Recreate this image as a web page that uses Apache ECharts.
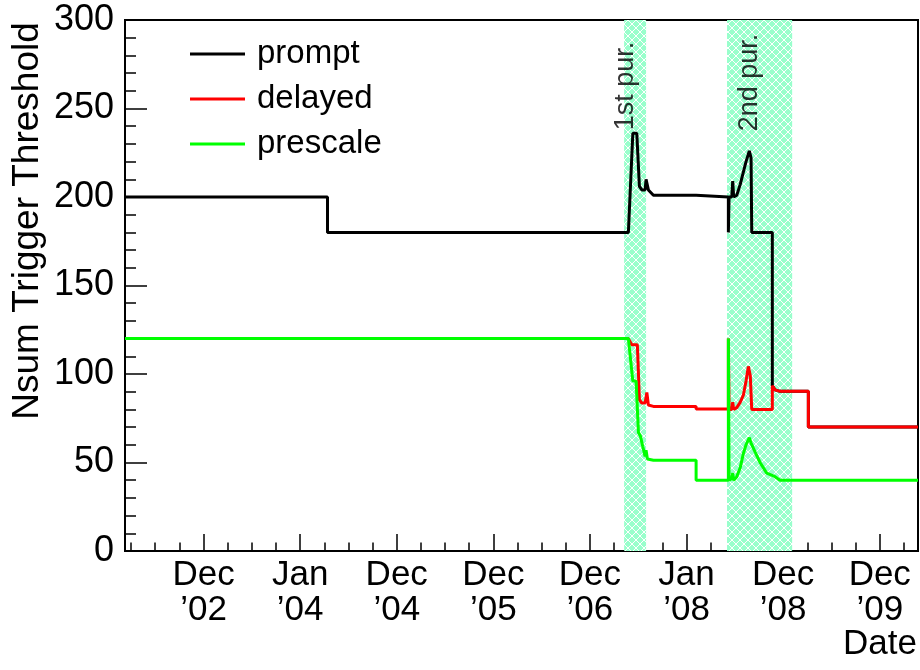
<!DOCTYPE html>
<html>
<head>
<meta charset="utf-8">
<script src="https://cdn.jsdelivr.net/npm/echarts@6/dist/echarts.min.js"></script>
<style>
  html, body { margin: 0; padding: 0; background: #fff; }
  #chart { width: 920px; height: 670px; }
</style>
</head>
<body>
<div id="chart"></div>
<script>
// x is measured in years from the "Dec '02" tick
var xTickVals = [0, 1, 2, 3, 4, 5, 6, 7];
var xTickLabels = ['Dec\n\u201902', 'Jan\n\u201904', 'Dec\n\u201904', 'Dec\n\u201905',
                   'Dec\n\u201906', 'Jan\n\u201908', 'Dec\n\u201908', 'Dec\n\u201909'];
var xMin = -0.813, xMax = 7.396;

// purification periods (shaded)
var purifications = [[4.354, 4.581], [5.419, 6.093]];
var purLabels = ['1st pur.', '2nd pur.'];

var prompt = [
  [-0.813, 200], [1.283, 200], [1.283, 180], [4.398, 180], [4.444, 236], [4.485, 236],
  [4.512, 206], [4.537, 204], [4.571, 204], [4.581, 210], [4.605, 204], [4.657, 201],
  [5.099, 201], [5.099, 200], [5.433, 200], [5.433, 180], [5.440, 200], [5.468, 200],
  [5.478, 209], [5.488, 200], [5.520, 201], [5.555, 207], [5.588, 214], [5.616, 220],
  [5.650, 226], [5.668, 222], [5.675, 180], [5.888, 180], [5.888, 93.4], [5.916, 91],
  [5.968, 90.2], [6.261, 90.2], [6.261, 70], [7.396, 70]
];
var delayed = [
  [-0.813, 120], [4.398, 120], [4.433, 116.5], [4.491, 116.5], [4.512, 85.5], [4.537, 83.6],
  [4.571, 83.6], [4.589, 89.6], [4.605, 82.5], [4.657, 81.7], [5.099, 81.7], [5.099, 80.2],
  [5.433, 80.2], [5.433, 120], [5.440, 80], [5.468, 80], [5.478, 84], [5.488, 80],
  [5.520, 81], [5.555, 84], [5.588, 88], [5.616, 96], [5.640, 104.3], [5.660, 99],
  [5.675, 80], [5.888, 80], [5.888, 93.4], [5.916, 91], [5.968, 90.2], [6.261, 90.2],
  [6.261, 70], [7.396, 70]
];
var prescale = [
  [-0.813, 120], [4.398, 120], [4.444, 96], [4.478, 96], [4.502, 67], [4.522, 65],
  [4.547, 59], [4.571, 53.5], [4.581, 57], [4.595, 52], [4.657, 51.3], [5.099, 51.3],
  [5.099, 40], [5.433, 40], [5.433, 120], [5.440, 40], [5.468, 41], [5.478, 44],
  [5.488, 40], [5.520, 42], [5.555, 47], [5.588, 55], [5.616, 60], [5.650, 64],
  [5.668, 61], [5.709, 56], [5.761, 50], [5.830, 44], [5.916, 42], [5.968, 40],
  [7.396, 40]
];

var FONT = '"Liberation Sans", Arial, Helvetica, sans-serif';

// minor ticks every quarter year
var xMinorVals = [];
for (var m = -0.75; m <= 7.26; m += 0.25) {
  if (Math.abs(m - Math.round(m)) > 1e-6) xMinorVals.push(+m.toFixed(2));
}

// cross hatch fill like the ROOT pattern
function hatch() {
  var c = document.createElement('canvas');
  c.width = 8; c.height = 8;
  var ctx = c.getContext('2d');
  ctx.fillStyle = '#99ffcc';
  ctx.fillRect(0, 0, 8, 8);
  ctx.strokeStyle = '#ffffff';
  ctx.lineWidth = 1;
  ctx.beginPath();
  ctx.moveTo(0, 0); ctx.lineTo(8, 8);
  ctx.moveTo(8, 0); ctx.lineTo(0, 8);
  ctx.stroke();
  return c;
}

var chart = echarts.init(document.getElementById('chart'), null, { renderer: 'canvas' });

var option = {
  animation: false,
  backgroundColor: '#fff',
  textStyle: { fontFamily: FONT },
  grid: {
    left: 125, top: 20, width: 793, height: 531,
    show: true, borderColor: '#000', borderWidth: 2, containLabel: false
  },
  legend: {
    data: ['prompt', 'delayed', 'prescale'],
    orient: 'vertical',
    left: 190, top: 37.4, padding: 0,
    icon: 'rect',
    itemWidth: 55, itemHeight: 3, itemGap: 12,
    textStyle: { fontSize: 33, color: '#000', fontFamily: FONT, padding: [0, 0, 0, 7] },
    selectedMode: false
  },
  xAxis: [{
    type: 'value', min: xMin, max: xMax,
    axisLine: { onZero: false, lineStyle: { color: '#000', width: 2 } },
    axisTick: { inside: true, length: 17, customValues: xTickVals, lineStyle: { color: '#000', width: 1.5 } },
    axisLabel: {
      customValues: xTickVals,
      formatter: function (v) { return xTickLabels[xTickVals.indexOf(Math.round(v))]; },
      fontSize: 35, lineHeight: 35, margin: 7, color: '#000', fontFamily: FONT
    },
    splitLine: { show: false }
  }, {
    type: 'value', min: xMin, max: xMax, position: 'bottom',
    axisLine: { show: false, onZero: false },
    axisTick: { inside: true, length: 8.5, customValues: xMinorVals, lineStyle: { color: '#000', width: 1.5 } },
    axisLabel: { show: false },
    splitLine: { show: false }
  }],
  yAxis: {
    type: 'value', min: 0, max: 300, interval: 50,
    axisLine: { show: true, onZero: false, lineStyle: { color: '#000', width: 2 } },
    axisTick: { show: true, inside: true, length: 22, lineStyle: { color: '#000', width: 1.5 } },
    minorTick: { show: true, splitNumber: 5, length: 11, lineStyle: { color: '#000', width: 1.5 } },
    axisLabel: { fontSize: 36, margin: 11, color: '#000', fontFamily: FONT },
    splitLine: { show: false }
  },
  series: [{
    name: 'prompt', type: 'line', data: prompt, symbol: 'none',
    lineStyle: { color: '#000', width: 3 }, itemStyle: { color: '#000' },
    markArea: {
      silent: true,
      itemStyle: { color: { image: hatch(), repeat: 'repeat' } },
      data: purifications.map(function (p) { return [{ xAxis: p[0] }, { xAxis: p[1] }]; })
    }
  }, {
    name: 'delayed', type: 'line', data: delayed, symbol: 'none',
    lineStyle: { color: '#ff0000', width: 3 }, itemStyle: { color: '#ff0000' }
  }, {
    name: 'prescale', type: 'line', data: prescale, symbol: 'none',
    lineStyle: { color: '#00ff00', width: 3 }, itemStyle: { color: '#00ff00' }
  }, {
    name: 'periods', type: 'scatter', symbolSize: 0, silent: true, z: 4,
    data: [[4.364, 262.7, purLabels[0]], [5.657, 264.7, purLabels[1]]],
    label: {
      show: true, position: 'inside', rotate: 90,
      formatter: function (p) { return p.value[2]; },
      fontSize: 27, color: '#000', fontFamily: FONT, align: 'center', verticalAlign: 'middle'
    }
  }],
  graphic: [{
    type: 'text', x: 28, y: 221, rotation: Math.PI / 2,
    style: { text: 'Nsum Trigger Threshold', font: '37px ' + FONT, fill: '#000',
             textAlign: 'center', textVerticalAlign: 'middle' }
  }, {
    type: 'text', x: 917, y: 644.7,
    style: { text: 'Date', font: '35px ' + FONT, fill: '#000',
             textAlign: 'right', textVerticalAlign: 'middle' }
  }]
};

chart.setOption(option);
</script>
</body>
</html>
